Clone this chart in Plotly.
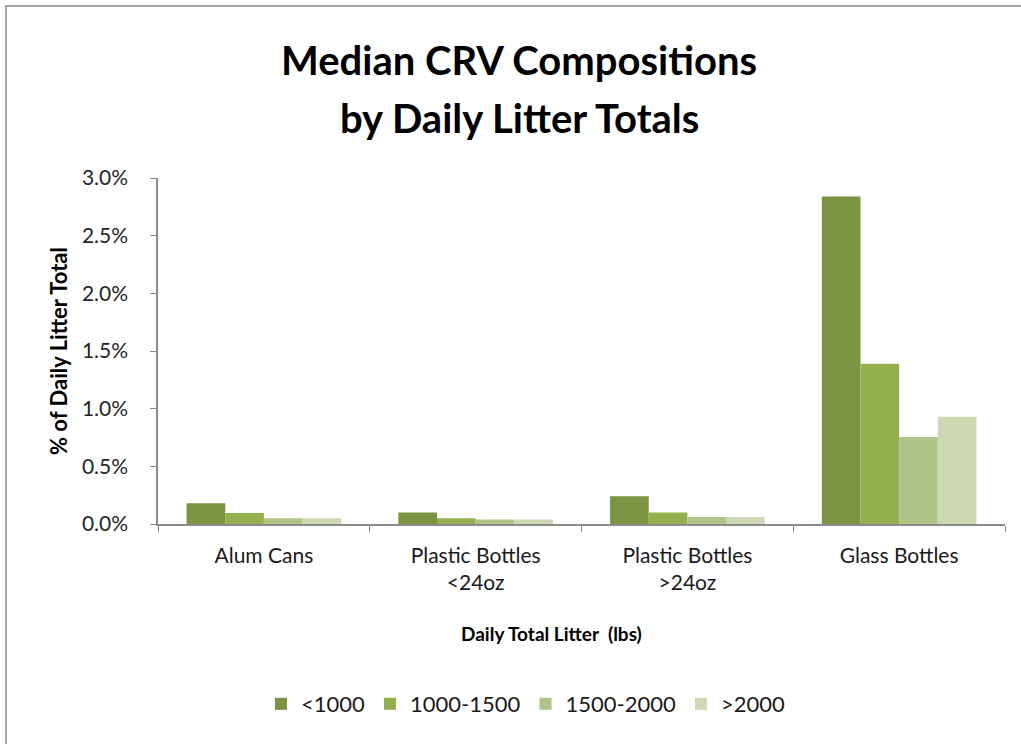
import plotly.graph_objects as go

# Material categories on the x axis
categories = [
    "Alum Cans",
    "Plastic Bottles<br>&lt;24oz",
    "Plastic Bottles<br>&gt;24oz",
    "Glass Bottles",
]

# Daily litter total bins (lbs) and their median CRV shares (%)
series_names = ["&lt;1000", "1000-1500", "1500-2000", "&gt;2000"]
under_1000 = [0.18, 0.10, 0.24, 2.84]
from_1000_1500 = [0.095, 0.05, 0.10, 1.39]
from_1500_2000 = [0.05, 0.04, 0.06, 0.755]
over_2000 = [0.05, 0.04, 0.06, 0.93]

y_ticks = [0.0, 0.5, 1.0, 1.5, 2.0, 2.5, 3.0]
y_tick_labels = ["0.0%", "0.5%", "1.0%", "1.5%", "2.0%", "2.5%", "3.0%"]

colors = ["#7A9441", "#93B04F", "#AFC587", "#CDD9B5"]
series_values = [under_1000, from_1000_1500, from_1500_2000, over_2000]

FONT = "Lato, 'Open Sans', sans-serif"
W, H = 1021, 744
L, R, T, B = 158, 16, 178, 220
pw, ph = W - L - R, H - T - B


def px_x(x):
    return (x - L) / pw


def px_y(y):
    return (H - B - y) / ph


fig = go.Figure()
for name, vals, col in zip(series_names, series_values, colors):
    fig.add_trace(go.Bar(x=categories, y=vals, name=name,
                         marker=dict(color=col, line=dict(width=0))))

fig.update_layout(
    width=W, height=H,
    margin=dict(l=L, r=R, t=T, b=B),
    paper_bgcolor="white", plot_bgcolor="white",
    barmode="group", bargap=0.27, bargroupgap=0,
    font=dict(family=FONT, color="#262626"),
    showlegend=True,
    legend=dict(orientation="h", x=px_x(526), xanchor="center",
                y=px_y(704), yanchor="middle",
                font=dict(size=22, family=FONT, color="#1A1A1A"),
                itemwidth=30, tracegroupgap=0, traceorder="normal"),
    xaxis=dict(type="category", showline=True, linecolor="#8C8C8C", linewidth=1.5,
               ticks="outside", tickson="boundaries", ticklen=6, tickcolor="#8C8C8C",
               ticklabelstandoff=12,
               tickfont=dict(size=21, family=FONT, color="#1A1A1A"),
               showgrid=False, zeroline=False),
    yaxis=dict(range=[0, 3.0], tickvals=y_ticks, ticktext=y_tick_labels,
               showline=True, linecolor="#8C8C8C", linewidth=1.5,
               ticks="outside", ticklen=6, tickcolor="#8C8C8C",
               ticklabelstandoff=18,
               tickfont=dict(size=21, family=FONT, color="#262626"),
               showgrid=False, zeroline=False),
    annotations=[
        dict(text="<b>Median CRV Compositions</b>",
             xref="paper", yref="paper", x=px_x(519), y=px_y(60),
             xanchor="center", yanchor="middle", showarrow=False,
             font=dict(size=40, family=FONT, color="#000000")),
        dict(text="<b>by Daily Litter Totals</b>",
             xref="paper", yref="paper", x=px_x(519), y=px_y(118),
             xanchor="center", yanchor="middle", showarrow=False,
             font=dict(size=40, family=FONT, color="#000000")),
        dict(text="<b>% of Daily Litter Total</b>",
             xref="paper", yref="paper", x=px_x(58), y=px_y(351),
             xanchor="center", yanchor="middle", showarrow=False, textangle=-90,
             font=dict(size=22, family=FONT, color="#000000")),
        dict(text="<b>Daily Total Litter  (lbs)</b>",
             xref="paper", yref="paper", x=px_x(551), y=px_y(633),
             xanchor="center", yanchor="middle", showarrow=False,
             font=dict(size=19, family=FONT, color="#000000")),
    ],
    shapes=[
        dict(type="rect", xref="paper", yref="paper",
             x0=px_x(6), x1=px_x(1040), y0=px_y(760), y1=px_y(6),
             line=dict(color="#A6A6A6", width=2), fillcolor="rgba(0,0,0,0)",
             layer="below"),
    ],
)

fig.write_html("out.html")
